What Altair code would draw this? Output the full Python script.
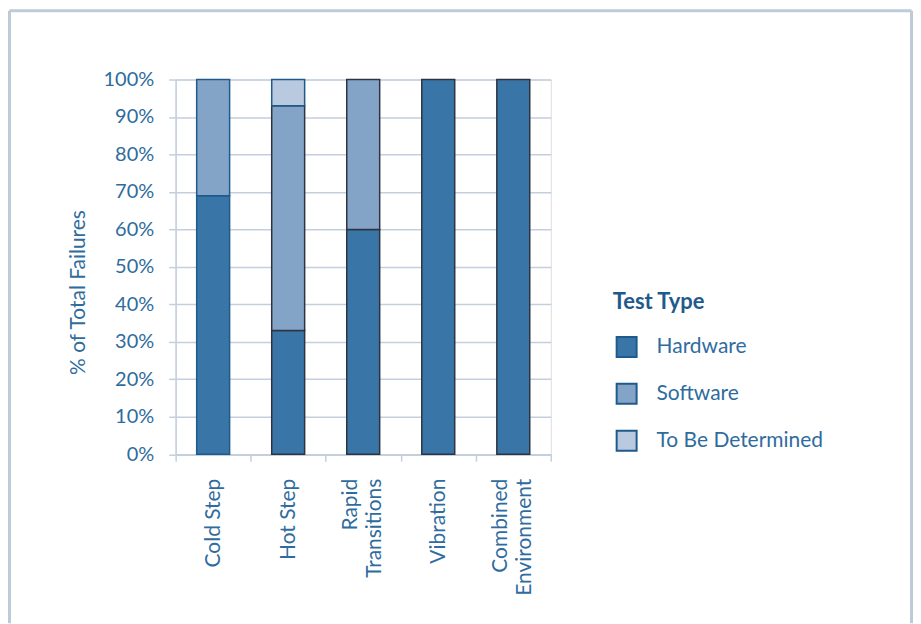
import altair as alt
import pandas as pd

# ---- data ----
tests = ["Cold Step", "Hot Step", "Rapid Transitions", "Vibration", "Combined Environment"]
two_line = ["Rapid Transitions", "Combined Environment"]
types = ["Hardware", "Software", "To Be Determined"]
hardware = [69, 33, 60, 100, 100]
software = [31, 60, 40, 0, 0]
tbd = [0, 7, 0, 0, 0]
y_ticks = [0, 10, 20, 30, 40, 50, 60, 70, 80, 90, 100]

rows = []
for i, t in enumerate(tests):
    for ty, vals in zip(types, [hardware, software, tbd]):
        if vals[i] > 0:
            rows.append({"test": t, "type": ty, "pct": vals[i]})
df = pd.DataFrame(rows)

TEXT = "#2f6c9e"
TITLE = "#1f5a8c"
GRID = "#c3cfdd"
FRAME = "#bfcad9"
FONT = "Lato"

two_line_js = "[" + ",".join("'%s'" % s for s in two_line) + "]"

bars = alt.Chart(df).transform_calculate(
    ord="indexof(['Hardware','Software','To Be Determined'], datum.type)"
).mark_bar(size=33, strokeWidth=1.5).encode(
    x=alt.X("test:N", sort=tests, title=None,
            scale=alt.Scale(paddingInner=0, paddingOuter=0),
            axis=alt.Axis(labelAngle=-90, labelAlign="right", labelBaseline="middle",
                          tickBand="extent", tickSize=7, tickColor=GRID, tickWidth=1.5,
                          domainColor=GRID, domainWidth=1.5, grid=False,
                          labelPadding=17, labelFontSize=21, labelColor=TEXT,
                          labelFont=FONT, labelFontWeight="normal", labelLineHeight=24,
                          labelLimit=300,
                          labelOffset=alt.condition("indexof(%s, datum.value) >= 0" % two_line_js,
                                                    alt.value(-13), alt.value(0)),
                          labelExpr="indexof(%s, datum.value) >= 0 ? split(datum.value, ' ') : datum.value" % two_line_js)),
    y=alt.Y("pct:Q", stack="zero", title="% of Total Failures",
            scale=alt.Scale(domain=[0, 100], nice=False),
            axis=alt.Axis(values=y_ticks, labelExpr="datum.value + '%'",
                          tickSize=7, tickColor=GRID, tickWidth=1.5,
                          gridColor=GRID, gridWidth=1.5, domainColor=GRID, domainWidth=1.5,
                          labelPadding=15, labelFontSize=20, labelColor=TEXT,
                          labelFont=FONT, labelFontWeight="normal",
                          titleFontSize=21, titleColor=TEXT, titleFont=FONT,
                          titleFontWeight="normal", titleAngle=270, titleAlign="center",
                          titleBaseline="middle", titleX=-97, titleY=213)),
    color=alt.Color("type:N", sort=types, title="Test Type",
                    scale=alt.Scale(domain=types, range=["#3a75a7", "#84a4c7", "#b9c9df"]),
                    legend=alt.Legend(orient="none", legendX=438, legendY=213,
                                      symbolType="square", symbolSize=400,
                                      symbolStrokeColor=TITLE, symbolStrokeWidth=2,
                                      symbolOpacity=1, symbolOffset=3,
                                      rowPadding=19, labelOffset=19, titlePadding=22,
                                      titleFontSize=22, titleColor=TITLE, titleFont=FONT,
                                      titleFontWeight="bold",
                                      labelFontSize=21, labelColor=TEXT, labelFont=FONT,
                                      labelFontWeight="normal", labelLimit=300)),
    order=alt.Order("ord:Q"),
    stroke=alt.condition("datum.test == 'Cold Step' || datum.type == 'To Be Determined'",
                         alt.value("#1f5a8c"), alt.value("#2d3440")),
)

one = pd.DataFrame({"k": [0]})
left_rule = alt.Chart(one).mark_rule(color=FRAME, strokeWidth=3).encode(
    x=alt.value(-166.5), y=alt.value(-69), y2=alt.value(545))
top_rule = alt.Chart(one).mark_rule(color=FRAME, strokeWidth=3).encode(
    x=alt.value(-166.5), x2=alt.value(737.5), y=alt.value(-69))
right_rule = alt.Chart(one).mark_rule(color=FRAME, strokeWidth=3).encode(
    x=alt.value(737.5), y=alt.value(-69), y2=alt.value(545))

chart = alt.layer(bars, left_rule, top_rule, right_rule).properties(
    width=376, height=375.5, padding=0
).configure_view(stroke=GRID, strokeWidth=1.5).configure(background="white")

chart.save("out.html", embed_options={"renderer": "svg", "actions": False})
